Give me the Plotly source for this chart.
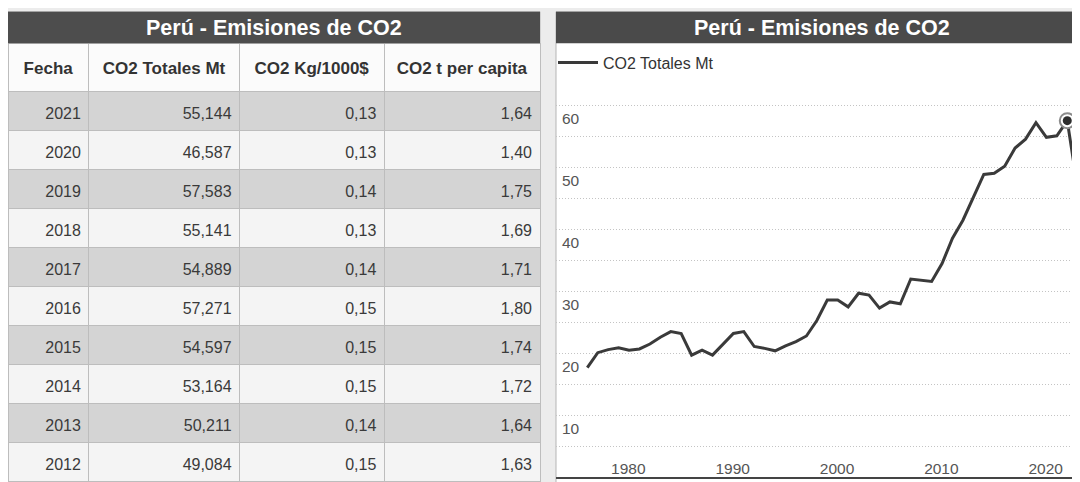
import plotly.graph_objects as go

# page body has an 8px margin: the figure is placed at (8, 8) in the window
OX, OY = 8, 8
W, H = 1080 - OX, 512 - OY   # figure runs a little past the bottom of the window
FONT = "Liberation Sans, Arial, sans-serif"

# ---------------- data ----------------
titulo = "Perú - Emisiones de CO2"
column_headers = ["Fecha", "CO2 Totales Mt", "CO2 Kg/1000$", "CO2 t per capita"]
fechas = [2021, 2020, 2019, 2018, 2017, 2016, 2015, 2014, 2013, 2012]
co2_totales_mt = [55.144, 46.587, 57.583, 55.141, 54.889, 57.271, 54.597, 53.164, 50.211, 49.084]
co2_kg_1000usd = [0.13, 0.13, 0.14, 0.13, 0.14, 0.15, 0.15, 0.15, 0.14, 0.15]
co2_t_per_capita = [1.64, 1.40, 1.75, 1.69, 1.71, 1.80, 1.74, 1.72, 1.64, 1.63]

serie_nombre = "CO2 Totales Mt"
serie_years = list(range(1973, 2022))
serie_co2 = [17.7, 20.1, 20.6, 20.9, 20.5, 20.7, 21.5, 22.6, 23.5, 23.2,
             19.7, 20.5, 19.7, 21.5, 23.2, 23.5, 21.1, 20.8, 20.4, 21.2,
             21.9, 22.8, 25.3, 28.6, 28.6, 27.5, 29.7, 29.4, 27.3, 28.3,
             28.0, 32.0, 31.8, 31.6, 34.5, 38.6, 41.5, 45.3, 48.9, 49.084,
             50.211, 53.164, 54.597, 57.271, 54.889, 55.141, 57.583, 46.587, 55.144]
x_tick_years = [1980, 1990, 2000, 2010, 2020]
y_tick_vals = [10, 20, 30, 40, 50, 60]


def px(x):
    return (x - OX) / W


def py(y):
    return 1 - (y - OY) / H


def es(v, d):
    return f"{v:.{d}f}".replace(".", ",")


fig = go.Figure()

# ---------------- table ----------------
n_rows = len(fechas)
col_widths = [81, 151, 145, 156]
row_fill = ["#d4d4d4" if i % 2 == 0 else "#f4f4f4" for i in range(n_rows)]
cell_text = [[str(f) for f in fechas],
             [es(v, 3) for v in co2_totales_mt],
             [es(v, 2) for v in co2_kg_1000usd],
             [es(v, 2) for v in co2_t_per_capita]]
header_text = [f"<b>{h}</b>" for h in column_headers]

# layer 1: cell backgrounds and rules
fig.add_trace(go.Table(
    domain=dict(x=[0, px(540)], y=[0, py(43.3)]),
    columnwidth=col_widths,
    header=dict(values=["" for _ in column_headers], height=48, fill_color="#fbfbfb",
                line=dict(color="#bdbdbd", width=1)),
    cells=dict(values=[["" for _ in fechas] for _ in column_headers], height=39,
               fill_color=[row_fill] * 4, line=dict(color="#bdbdbd", width=1)),
    hoverinfo="skip",
))
# layer 2: the texts, set a few px lower so they sit centred in their rows
fig.add_trace(go.Table(
    domain=dict(x=[0, px(540)], y=[0, py(51.3)]),
    columnwidth=col_widths,
    header=dict(values=header_text, height=48, fill_color="rgba(0,0,0,0)",
                line=dict(color="rgba(0,0,0,0)", width=0),
                align="center", font=dict(family=FONT, size=17, color="#333333")),
    cells=dict(values=cell_text, height=39, fill_color="rgba(0,0,0,0)",
               line=dict(color="rgba(0,0,0,0)", width=0),
               align="right", font=dict(family=FONT, size=16, color="#3a3a3a")),
))

# ---------------- line chart ----------------
fig.add_trace(go.Scatter(
    x=serie_years, y=serie_co2, mode="lines", name=serie_nombre,
    line=dict(color="#3a3a3a", width=3), showlegend=True, hoverinfo="x+y"))

imax = max(range(len(serie_co2)), key=lambda i: serie_co2[i])
fig.add_trace(go.Scatter(
    x=[serie_years[imax]], y=[serie_co2[imax]], mode="markers", showlegend=False,
    marker=dict(size=15, color="white", line=dict(color="#8c8c8c", width=2)),
    hoverinfo="skip"))
fig.add_trace(go.Scatter(
    x=[serie_years[imax]], y=[serie_co2[imax]], mode="markers", showlegend=False,
    marker=dict(size=9, color="#2e2e2e"), hoverinfo="skip"))

# ---------------- decorations ----------------
shapes = [
    dict(type="rect", xref="paper", yref="paper", x0=px(556), x1=px(1100), y0=py(520), y1=py(11.7),
         fillcolor="white", line=dict(color="#b5b5b5", width=1), layer="below"),
    dict(type="rect", xref="paper", yref="paper", x0=px(8), x1=px(540), y0=py(520), y1=py(11.7),
         fillcolor="white", line=dict(color="#b5b5b5", width=1), layer="below"),
    dict(type="rect", xref="paper", yref="paper", x0=px(6), x1=px(540), y0=py(43.3), y1=py(11.7),
         fillcolor="#4d4d4d", line=dict(width=0), layer="above"),
    dict(type="rect", xref="paper", yref="paper", x0=px(556), x1=px(1100), y0=py(43.3), y1=py(11.7),
         fillcolor="#4a4a4a", line=dict(width=0), layer="above"),
]
annotations = [
    dict(text=f"<b>{titulo}</b>", x=px(274), y=py(28), xref="paper", yref="paper",
         showarrow=False, font=dict(family=FONT, size=21.5, color="white"), xanchor="center", yanchor="middle"),
    dict(text=f"<b>{titulo}</b>", x=px(822), y=py(28), xref="paper", yref="paper",
         showarrow=False, font=dict(family=FONT, size=21.5, color="white"), xanchor="center", yanchor="middle"),
]

fig.update_layout(
    width=W, height=H, autosize=False,
    margin=dict(l=0, r=0, t=0, b=0),
    paper_bgcolor="#ececec", plot_bgcolor="rgba(0,0,0,0)",
    font=dict(family=FONT, size=15, color="#555555"),
    shapes=shapes, annotations=annotations,
    showlegend=True,
    legend=dict(x=px(553), y=py(62.7), xanchor="left", yanchor="middle",
                bgcolor="rgba(0,0,0,0)", font=dict(family=FONT, size=16, color="#333333"),
                itemwidth=40),
    xaxis=dict(domain=[px(556), 1.0], range=[1970.0, 2020.22],
               tickmode="array", tickvals=x_tick_years, ticktext=[str(v) for v in x_tick_years],
               ticklabelposition="inside", ticklabelshift=-32, ticklabeloverflow="allow",
               ticks="", showgrid=False, zeroline=False,
               showline=True, linecolor="#444444", linewidth=2,
               tickfont=dict(family=FONT, size=15.5, color="#555555")),
    yaxis=dict(domain=[py(477.1), py(74.75)], range=[0, 65],
               tickmode="array", tickvals=y_tick_vals, ticktext=[str(v) for v in y_tick_vals],
               ticklabelposition="inside", ticklabelshift=13, ticklabelstandoff=3,
               ticklabeloverflow="allow",
               ticks="", showgrid=True, gridcolor="#c4c4c4", griddash="1px,2px", gridwidth=1,
               minor=dict(tickmode="linear", tick0=0, dtick=5, showgrid=True,
                          gridcolor="#c4c4c4", griddash="1px,2px", gridwidth=1),
               zeroline=False, showline=False,
               tickfont=dict(family=FONT, size=15.5, color="#555555")),
)

fig.write_html("out.html")
